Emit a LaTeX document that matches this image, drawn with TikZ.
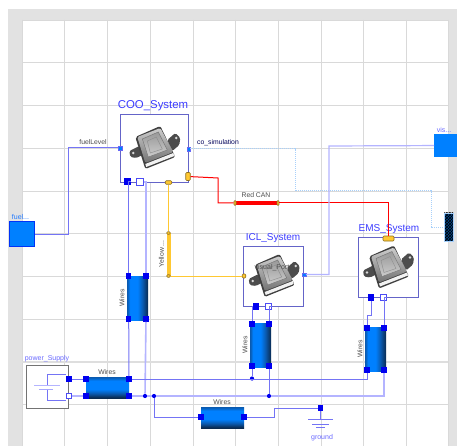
\documentclass[tikz,border=0pt]{standalone}
\usepackage{xcolor}
\usepackage{fontspec}
\setmainfont{Liberation Sans}
\usetikzlibrary{patterns,positioning}
\definecolor{framecolor}{HTML}{E2E2E2}
\definecolor{gridcolor}{HTML}{D9D9D9}
\definecolor{wirecolor}{HTML}{7474F5}
\definecolor{palewire}{HTML}{B4B4FF}
\definecolor{portcolor}{HTML}{0000F0}
\definecolor{fillblue}{HTML}{0080FF}
\definecolor{edgedark}{HTML}{0A2A50}
\definecolor{edgemid}{HTML}{0A5AB0}
\definecolor{titlecolor}{HTML}{3C3CFF}
\definecolor{labelblue}{HTML}{6A6AFF}
\definecolor{boxcolor}{HTML}{6464C8}
\definecolor{yellowbus}{HTML}{FFC832}
\definecolor{busedge}{HTML}{8C6E1E}
\definecolor{dotcolor}{HTML}{A8D0FA}
\pgfdeclarehorizontalshading{blockside}{100bp}{color(0bp)=(edgemid); color(26bp)=(edgemid); color(32bp)=(fillblue); color(50bp)=(fillblue); color(62bp)=(edgemid); color(75bp)=(edgedark); color(100bp)=(edgedark)}
\pgfdeclareverticalshading{blockflat}{100bp}{color(0bp)=(edgedark); color(26bp)=(edgedark); color(36bp)=(edgemid); color(46bp)=(fillblue); color(66bp)=(fillblue); color(74bp)=(edgemid); color(100bp)=(edgemid)}
\tikzset{
    ecuicon/.pic={
        \fill[black!70, rounded corners=1.5pt] (-15,-2) -- (-25,3) -- (-24,9) -- (-18,10) -- (-10,6) -- cycle;
        \fill[black!70, rounded corners=1.5pt] (13,-8) -- (21,-15) -- (26,-10) -- (25,-3) -- (18,3) -- cycle;
        \fill[black!15] (-21,5) circle (1.4);
        \fill[black!15] (22,-10) circle (1.4);
        \fill[black!75, rounded corners=2pt] (-19,-11) -- (6,-22) -- (21,9) -- (-9,21) -- cycle;
        \shade[top color=black!20, bottom color=black!55, rounded corners=1.5pt] (-17,-11) -- (6,-20) -- (19,4) -- (-9,15) -- cycle;
        \fill[black!5] (-9,16) -- (19,5) -- (20,8) -- (-8,19) -- cycle;
        \shade[top color=black!40, bottom color=black!20, draw=black!55] (-12,-9) -- (4,-16) -- (13,2) -- (-6,9) -- cycle;
        \draw[black!45] (-7,-7) -- (2,-11) -- (8,1) -- (-4,5) -- cycle;
    }
}
\begin{document}
\begin{tikzpicture}[
        x=1pt,
        y=-1pt,
        gridline/.style={gridcolor, line width=0.9pt},
        signalwire/.style={wirecolor, line width=1pt},
        palewireline/.style={palewire, line width=1.6pt},
        redwire/.style={red, line width=1pt},
        yellowwire/.style={yellowbus, line width=1pt},
        dotwire/.style={dotcolor, line width=1pt, dash pattern=on 1pt off 1pt},
        portfull/.style={rectangle, fill=portcolor, inner sep=0pt, minimum size=5.5pt},
        portopen/.style={rectangle, draw=portcolor!70!white, fill=white, line width=0.7pt, inner sep=0pt, minimum size=6.5pt},
        portsmall/.style={rectangle, fill=fillblue, draw=portcolor!60!white, line width=0.3pt, inner sep=0pt, minimum size=3.6pt},
        junction/.style={circle, fill=portcolor, inner sep=0pt, minimum size=4.2pt},
        busport/.style={rectangle, rounded corners=1pt, fill=yellowbus, draw=busedge, line width=0.6pt, inner sep=0pt},
        ecubox/.style={rectangle, draw=boxcolor, fill=white, line width=0.8pt, inner sep=0pt, minimum size=60pt},
        vblock/.style={rectangle, shading=blockside, inner sep=0pt, minimum width=21pt, minimum height=44pt},
        hblock/.style={rectangle, shading=blockflat, inner sep=0pt, minimum width=43pt, minimum height=21pt},
        sysname/.style={text=titlecolor, font=\fontsize{10}{12}\selectfont, inner sep=0pt},
        smallname/.style={text=labelblue, font=\fontsize{7}{8}\selectfont, inner sep=0pt},
        linelabel/.style={text=black!70, font=\fontsize{6.8}{8}\selectfont, inner sep=0pt}
    ]
        \useasboundingbox (0,0) rectangle (457,446);
        \fill[framecolor] (8,9) rectangle (457,446);
        \fill[white] (22,20) rectangle (448,446);

        \foreach \gx in {22,64.5,107.3,150,193,235.5,278,321,363.6,406,448}
            \draw[gridline] (\gx,20) -- (\gx,446);
        \foreach \gy in {20,62.5,105,148,191,233,276,319,404}
            \draw[gridline] (22,\gy) -- (448,\gy);
        \draw[framecolor!60!gridcolor, line width=1.8pt] (22,362) -- (448,362);

        \node[ecubox, minimum size=68pt] (coosys) at (154.3,148) {};
        \node[ecubox] (iclsys) at (273.7,276) {};
        \node[ecubox] (emssys) at (388,267.5) {};
        \pic at (coosys.center) {ecuicon};
        \pic at (iclsys.center) {ecuicon};
        \pic at (emssys.center) {ecuicon};

        \node[sysname, font=\fontsize{11.4}{12}\selectfont] (cooname) at (153,105.5) {COO\_System};
        \node[sysname] (iclname) at (273,238.5) {ICL\_System};
        \node[sysname] (emsname) at (389,229.5) {EMS\_System};
        \node[text=black!70, font=\fontsize{7}{8}\selectfont, inner sep=0pt] (visualport) at (272,268) {visual\_Port};

        \node[rectangle, fill=fillblue, draw=portcolor!60!fillblue, line width=0.6pt, minimum size=25pt, inner sep=0pt] (fuel) at (22,234) {};
        \node[smallname, text=fillblue!70!labelblue] (fuelname) at (20.5,217) {fuel...};
        \node[rectangle, fill=fillblue, anchor=west, minimum width=23pt, minimum height=23pt, inner sep=0pt] (vis) at (434,145.5) {};
        \node[smallname] (visname) at (444,130) {vis...};
        \node[rectangle, draw=dotcolor, preaction={fill=fillblue!55!black}, pattern=crosshatch, pattern color=black, line width=0.6pt, minimum width=9pt, minimum height=28pt, inner sep=0pt] (cosim) at (448.5,227) {};

        \node[rectangle, draw=black!55, fill=white, line width=0.8pt, minimum size=42.5pt, inner sep=0pt] (powersupply) at (47.5,387) {};
        \node[smallname] (powername) at (47,359) {power\_Supply};
        \draw[palewire, line width=0.9pt] (34,385) -- (60,385);
        \draw[palewire!80!wirecolor, line width=0.9pt] (39,389.5) -- (53,389.5);
        \draw[signalwire] (47,385) -- (47,374) -- (66,374);
        \draw[signalwire] (47,389.5) -- (47,400) -- (66,400);

        \node[vblock] (wiresa) at (137.5,298) {};
        \node[hblock] (wiresb) at (107.5,387.5) {};
        \node[vblock] (wiresc) at (260.5,345) {};
        \node[vblock] (wiresd) at (375.5,349) {};
        \node[hblock] (wirese) at (222.5,417.5) {};
        \node[linelabel, rotate=90] (labela) at (122,298) {Wires};
        \node[linelabel] (labelb) at (107,372) {Wires};
        \node[linelabel, rotate=90] (labelc) at (245,345) {Wires};
        \node[linelabel, rotate=90] (labeld) at (360,349) {Wires};
        \node[linelabel] (labele) at (222,402) {Wires};

        \foreach \pname/\px/\py in {aa/128.7/276, ab/146/276, ac/128.7/319, ad/146/319,
                ba/86/379, bb/129/379, bc/86/396, bd/129/396,
                ca/252/324, cb/269/324, cc/252/366, cd/269/366,
                da/367/328, db/384/328, dc/367/370, dd/384/370,
                ea/201/417, eb/244/417, ground/320.5/408, powerpos/69/379}
            \node[portfull] (\pname) at (\px,\py) {};
        \node[portopen, minimum size=5pt] (powerneg) at (69,396) {};

        \node[portfull, minimum size=7pt] (coopos) at (127.5,182) {};
        \node[portopen] (cooneg) at (140,182) {};
        \node[portfull, minimum size=6.5pt] (iclpos) at (256,306.5) {};
        \node[portopen] (iclneg) at (268.5,306.5) {};
        \node[portfull, minimum size=6.5pt] (emspos) at (371,297.5) {};
        \node[portopen] (emsneg) at (383.5,297.5) {};
        \node[portsmall] (coofuel) at (120,148) {};
        \node[portsmall] (coosim) at (188.5,149) {};
        \node[portsmall] (iclvis) at (304,274.5) {};

        \foreach \jname/\px/\py in {jone/145/396, jtwo/154/396, jthree/252/378.5, jfour/269/396}
            \node[junction] (\jname) at (\px,\py) {};

        \node[busport, minimum width=4.5pt, minimum height=8pt] (coocan) at (188,176.5) {};
        \node[busport, minimum width=6.5pt, minimum height=3.5pt] (cooyellow) at (168.5,182.5) {};
        \node[busport, minimum width=11pt, minimum height=5pt] (emscan) at (388.5,238.5) {};
        \node[busport, minimum width=3.5pt, minimum height=4pt] (iclyellow) at (244,276) {};
        \node[rectangle, fill=red, inner sep=0pt, minimum width=43pt, minimum height=3.6pt] (redcan) at (256.5,203) {};
        \node[busport, minimum width=2pt, minimum height=5pt] (cana) at (235,203) {};
        \node[busport, minimum width=2pt, minimum height=5pt] (canb) at (278,203) {};
        \node[rectangle, fill=yellowbus, inner sep=0pt, minimum width=4pt, minimum height=43pt] (yellowcan) at (168.5,254.5) {};
        \node[busport, minimum width=3.5pt, minimum height=2.5pt] (yellowa) at (168.5,233) {};
        \node[busport, minimum width=3.5pt, minimum height=2.5pt] (yellowb) at (168.5,276) {};
        \node[linelabel] (rednname) at (256,195) {Red CAN};
        \node[linelabel, rotate=90] (yellowname) at (161.5,254) {Yellow ...};
        \node[linelabel] (fuellevel) at (93,142) {fuelLevel};
        \node[linelabel, text=black!65!blue] (cosimname) at (218,143) {co\_simulation};
        \node[smallname] (groundname) at (322,438) {ground};

        \draw[redwire] (coocan) -- (218,178) -- (218,203) -- (cana);
        \draw[redwire] (canb) -- (388.5,203) -- (emscan);
        \draw[yellowwire] (cooyellow) -- (yellowa);
        \draw[yellowwire] (yellowb) -- (iclyellow);
        \draw[dotwire] (coosim) -- (295,149) -- (295,191) -- (431,191) -- (431,227) -- (cosim);

        \draw[signalwire] (fuel) -- (68,234) -- (68,148) -- (coofuel);
        \draw[palewire, line width=1.2pt] (iclvis) -- (329,274.5) -- (329,146) -- (vis);
        \draw[signalwire] (coopos) -- (128.7,182) -- (aa);
        \draw[palewireline] (cooneg) -- (146,182) -- (ab);
        \draw[signalwire] (ac) -- (bb);
        \draw[palewireline] (ad) -- (jone);
        \draw[signalwire] (powerpos) -- (ba);
        \draw[palewireline] (powerneg) -- (bc);
        \draw[signalwire] (bb) -- (367,379) -- (dc);
        \draw[palewireline] (bd) -- (jone);
        \draw[palewireline] (jone) -- (jtwo);
        \draw[palewireline] (jtwo) -- (jfour);
        \draw[palewireline] (jfour) -- (384,396) -- (dd);
        \draw[signalwire] (jtwo) -- (154,417) -- (ea);
        \draw[signalwire] (eb) -- (274,417) -- (274,408) -- (ground);
        \draw[signalwire] (iclpos) -- (252,306.5) -- (ca);
        \draw[signalwire] (iclneg) -- (269,306.5) -- (cb);
        \draw[signalwire] (cc) -- (jthree);
        \draw[signalwire] (cd) -- (jfour);
        \draw[signalwire] (emspos) -- (371,315) -- (367,315) -- (da);
        \draw[signalwire] (emsneg) -- (384,297.5) -- (db);

        \draw[signalwire] (ground) -- (320.5,419);
        \draw[signalwire] (308,419) -- (333,419);
        \draw[signalwire] (312,424) -- (329,424);
        \draw[signalwire] (316,427.5) -- (325,427.5);
    \end{tikzpicture}
\end{document}
